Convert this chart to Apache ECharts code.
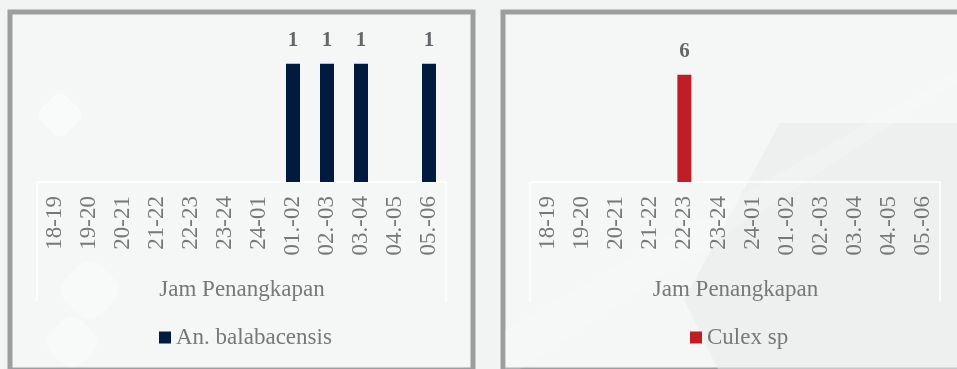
<!DOCTYPE html>
<html>
<head>
<meta charset="utf-8">
<script src="https://cdn.jsdelivr.net/npm/echarts@6/dist/echarts.min.js"></script>
<style>
  html, body { margin: 0; padding: 0; background: #f2f3f3; }
  #chart { width: 957px; height: 369px; }
</style>
</head>
<body>
<div id="chart"></div>
<script>
// Catching hours (Jam Penangkapan)
const hours = ['18-19', '19-20', '20-21', '21-22', '22-23', '23-24', '24-01',
               '01.-02', '02.-03', '03.-04', '04.-05', '05.-06'];

// Mosquito counts per hour
const anBalabacensis = [null, null, null, null, null, null, null, 1, 1, 1, null, 1];
const culexSp = [null, null, null, null, 6, null, null, null, null, null, null, null];

const seriesNames = ['An. balabacensis', 'Culex sp'];
const axisTitle = 'Jam Penangkapan';

const serif = '"Liberation Serif", "DejaVu Serif", serif';
const labelGray = '#77787a';
const valueGray = '#66676a';

// Plot layouts for the two panels
const grids = [
  { left: 38, top: 40, width: 408, height: 142 },
  { left: 531, top: 57, width: 409, height: 125 }
];
const yMax = [1.2, 7];

const chart = echarts.init(document.getElementById('chart'));

function xAxisFor(i) {
  return {
    type: 'category', gridIndex: i, data: hours,
    name: axisTitle, nameLocation: 'middle', nameGap: 96,
    nameTextStyle: { fontFamily: serif, fontSize: 23, color: labelGray },
    axisLine: { show: true, lineStyle: { color: '#ffffff', width: 1.5 } },
    axisTick: { show: false },
    axisLabel: { rotate: 90, margin: 14, fontFamily: serif, fontSize: 23, color: labelGray }
  };
}
function yAxisFor(i) {
  return {
    type: 'value', gridIndex: i, min: 0, max: yMax[i],
    show: false, splitLine: { show: false }
  };
}
function barSeries(i, name, data, color) {
  return {
    type: 'bar', name: name, xAxisIndex: i, yAxisIndex: i, data: data,
    barWidth: 14,
    itemStyle: { color: color },
    label: {
      show: true, position: 'top', distance: 13,
      fontFamily: serif, fontSize: 21, fontWeight: 'bold', color: valueGray
    }
  };
}

// Panel frames and the white outline around the category band
const decorations = [];
const panels = [
  { x: 10, y: 12, width: 463, height: 358 },
  { x: 503, y: 12, width: 520, height: 358 }
];
panels.forEach(p => {
  decorations.push({
    type: 'rect', shape: p, z: -10,
    style: { fill: '#f5f6f6', stroke: '#9d9ea0', lineWidth: 5 }
  });
});
// faint background shapes
decorations.push({
  type: 'polygon', z: -9,
  shape: { points: [[780, 123], [1000, 123], [1000, 369], [718, 369], [684, 300]] },
  style: { fill: '#e8eaea', opacity: 0.55 }
});
decorations.push({
  type: 'polygon', z: -9,
  shape: { points: [[505, 330], [960, 70], [960, 80], [520, 369], [505, 369]] },
  style: { fill: '#ffffff', opacity: 0.18 }
});
decorations.push({
  type: 'rect', z: -9,
  shape: { x: 42, y: 97, width: 36, height: 36, r: 10 },
  rotation: Math.PI / 4, originX: 60, originY: 115,
  style: { fill: '#ffffff', opacity: 0.45 }
});
decorations.push({
  type: 'rect', z: -9,
  shape: { x: 65, y: 265, width: 50, height: 50, r: 16 },
  rotation: Math.PI / 4, originX: 90, originY: 290,
  style: { fill: '#ffffff', opacity: 0.3 }
});
decorations.push({
  type: 'rect', z: -9,
  shape: { x: 50, y: 320, width: 44, height: 44, r: 14 },
  rotation: Math.PI / 4, originX: 72, originY: 342,
  style: { fill: '#ffffff', opacity: 0.3 }
});
grids.forEach(g => {
  const bottom = g.top + g.height;
  [g.left - 1, g.left + g.width].forEach(x => {
    decorations.push({
      type: 'line', z: -5,
      shape: { x1: x, y1: bottom, x2: x, y2: bottom + 120 },
      style: { stroke: '#ffffff', lineWidth: 1.5 }
    });
  });
});

chart.setOption({
  backgroundColor: '#f2f3f3',
  animation: false,
  graphic: decorations,
  grid: grids,
  xAxis: [xAxisFor(0), xAxisFor(1)],
  yAxis: [yAxisFor(0), yAxisFor(1)],
  legend: [
    {
      data: [seriesNames[0]], left: 245, top: 321, itemWidth: 12, itemHeight: 12, itemGap: 5,
      icon: 'rect', textStyle: { fontFamily: serif, fontSize: 23, color: labelGray }
    },
    {
      data: [seriesNames[1]], left: 739, top: 321, itemWidth: 12, itemHeight: 12, itemGap: 5,
      icon: 'rect', textStyle: { fontFamily: serif, fontSize: 23, color: labelGray }
    }
  ],
  series: [
    barSeries(0, seriesNames[0], anBalabacensis, '#001a40'),
    barSeries(1, seriesNames[1], culexSp, '#be1e24')
  ]
});

// center each legend horizontally under its plot
function recenterLegends() {
  const views = chart._componentsViews.filter(v => v && v.type === 'legend.plain');
  const targets = [245, 739];
  const updates = views.map((v, idx) => {
    const w = v.group.getBoundingRect().width;
    const i = v.__model ? v.__model.componentIndex : idx;
    return { left: Math.round(targets[i] - w / 2) };
  });
  chart.setOption({ legend: updates });
}
try { recenterLegends(); } catch (e) {}
</script>
</body>
</html>
